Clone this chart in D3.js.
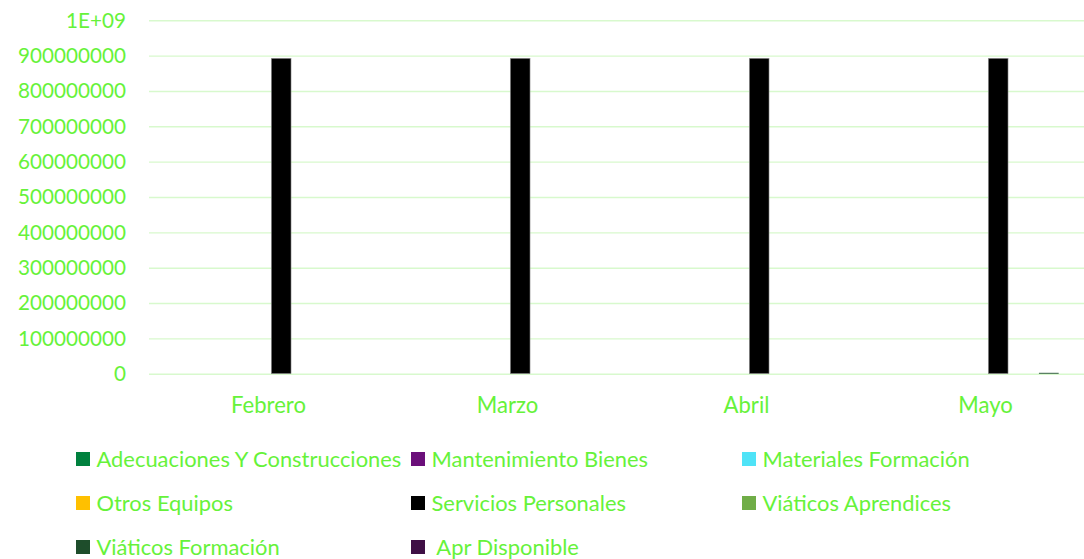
<!DOCTYPE html>
<html>
<head>
<meta charset="utf-8">
<script src="https://cdn.jsdelivr.net/npm/d3@7"></script>
<style>
  html, body { margin: 0; padding: 0; background: #ffffff; }
  svg { display: block; }
  text { font-family: Lato, "Open Sans", sans-serif; fill: #66f23a; }
</style>
</head>
<body>
<svg id="chart" width="1084" height="559"></svg>
<script>
// ---- data ----
const categories = ["Febrero", "Marzo", "Abril", "Mayo"];
const seriesNames = [
  "Adecuaciones Y Construcciones",
  "Mantenimiento Bienes",
  "Materiales Formación",
  "Otros Equipos",
  "Servicios Personales",
  "Viáticos Aprendices",
  "Viáticos Formación",
  " Apr Disponible"
];
const seriesColors = ["#00813e", "#6b0f7a", "#4fe3f7", "#ffc000", "#000000", "#70ad47", "#1e4d2b", "#3f0f45"];
const adecuaciones        = [0, 0, 0, 0];
const mantenimiento       = [0, 0, 0, 0];
const materiales          = [0, 0, 0, 0];
const otrosEquipos        = [0, 0, 0, 0];
const serviciosPersonales = [892500000, 892500000, 892500000, 892500000];
const viaticosAprendices  = [0, 0, 0, 0];
const viaticosFormacion   = [0, 0, 0, 2500000];
const aprDisponible       = [0, 0, 0, 0];
const yTickValues = [0, 100000000, 200000000, 300000000, 400000000, 500000000, 600000000, 700000000, 800000000, 900000000, 1000000000];
const yTickLabels = ["0", "100000000", "200000000", "300000000", "400000000", "500000000", "600000000", "700000000", "800000000", "900000000", "1E+09"];

const seriesValues = [adecuaciones, mantenimiento, materiales, otrosEquipos,
  serviciosPersonales, viaticosAprendices, viaticosFormacion, aprDisponible];

// ---- layout ----
const svg = d3.select("#chart");
const plotLeft = 149, catStep = 239;
const x0 = d3.scaleBand().domain(categories).range([plotLeft, plotLeft + catStep * categories.length]).padding(0);
const x1 = d3.scaleBand().domain(d3.range(seriesNames.length)).range([21, 218]).paddingInner(0.22).paddingOuter(0);
const y = d3.scaleLinear().domain([0, 1000000000]).range([373.7, 20.3]);

// gridlines
const grid = svg.append("g").attr("transform", `translate(${plotLeft},0)`)
  .call(d3.axisLeft(y).tickValues(yTickValues).tickSize(-(catStep * categories.length)).tickFormat(""));
grid.select(".domain").remove();
grid.selectAll("line").attr("stroke", "#d8f9cd").attr("stroke-width", 1.4);

// bars
const rows = [];
categories.forEach((c, ci) => seriesValues.forEach((arr, si) => rows.push({ c, si, v: arr[ci] })));
svg.append("g").selectAll("rect")
  .data(rows.filter(d => d.v > 0))
  .join("rect")
  .attr("x", d => x0(d.c) + x1(d.si))
  .attr("width", x1.bandwidth())
  .attr("y", d => y(d.v))
  .attr("height", d => y(0) - y(d.v))
  .attr("fill", d => seriesColors[d.si])
  .attr("stroke", d => d.si === 4 ? "#9a9a9a" : "none")
  .attr("stroke-width", 0.6);

// y axis labels
const yAxis = svg.append("g").attr("transform", `translate(${plotLeft},0)`)
  .call(d3.axisLeft(y).tickValues(yTickValues).tickSize(0).tickPadding(23)
    .tickFormat((d, i) => yTickLabels[i]));
yAxis.select(".domain").remove();
yAxis.selectAll("text").attr("font-size", 24).attr("dy", "0.33em")
  .style("font-family", "Lato, sans-serif").attr("fill", "#66f23a");

// x axis labels
const xAxis = svg.append("g").attr("transform", `translate(0,${y(0)})`)
  .call(d3.axisBottom(x0).tickSize(0).tickPadding(0));
xAxis.select(".domain").remove();
xAxis.selectAll("text").attr("y", 39.3).attr("dy", 0).attr("font-size", 24)
  .style("font-family", "Lato, sans-serif").attr("fill", "#66f23a");

// legend
const colX = [76, 411, 742], rowY = [452, 496, 540];
const leg = svg.append("g").selectAll("g")
  .data(seriesNames.map((n, i) => ({ n, i })))
  .join("g")
  .attr("transform", d => `translate(${colX[d.i % 3]},${rowY[Math.floor(d.i / 3)]})`);
leg.append("rect").attr("width", 14).attr("height", 14).attr("fill", d => seriesColors[d.i]);
const legText = leg.append("text").attr("x", 20.5).attr("y", 14.5).attr("font-size", 24)
  .attr("xml:space", "preserve").style("white-space", "pre")
  .text(d => d.n);

// fit font sizes to the reference widths (Calibri-like metrics)
function fit(sel, refNode, target) {
  const w = refNode.getComputedTextLength();
  if (w > 0) {
    const fs = 24 * target / w;
    sel.attr("font-size", fs);
  }
}
fit(legText, legText.nodes()[0], 305);
fit(yAxis.selectAll("text"), yAxis.selectAll("text").nodes()[9], 108);
fit(xAxis.selectAll("text"), xAxis.selectAll("text").nodes()[0], 75);
</script>
</body>
</html>
